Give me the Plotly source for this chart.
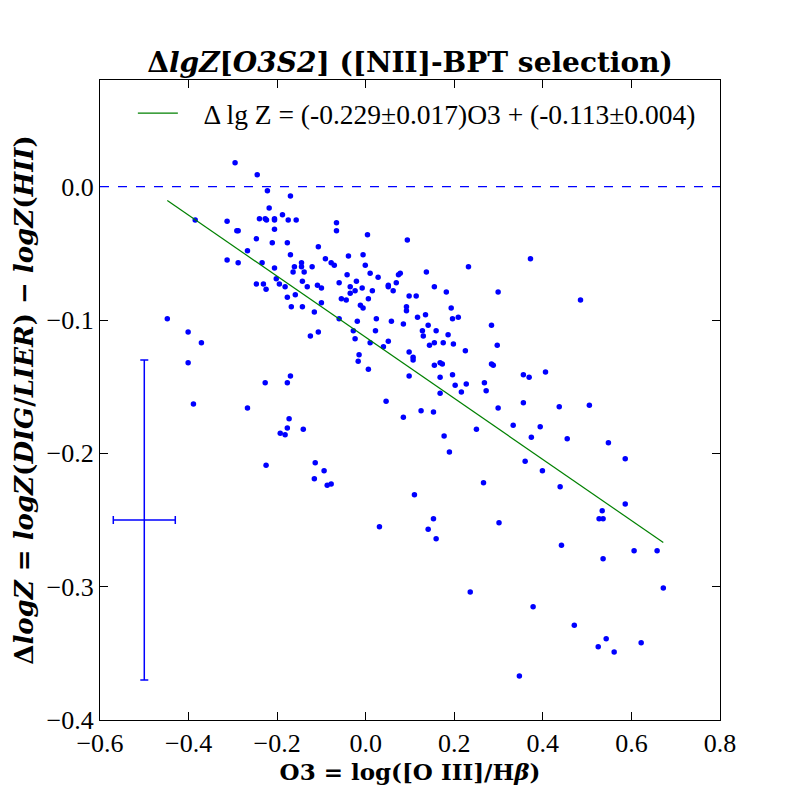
import plotly.graph_objects as go

# delta metallicity vs O3
o3 = [
    -0.295, -0.245, -0.222, -0.170, -0.218, -0.188, -0.385, -0.313, -0.240, -0.227,
    -0.224, -0.206, -0.206, -0.175, -0.157, -0.291, -0.288, -0.206, -0.247, -0.177,
    -0.211, -0.267, -0.107, -0.170, -0.091, -0.313, -0.288, -0.234, -0.145, -0.161,
    -0.145, -0.121, -0.206, -0.164, -0.139, -0.202, -0.143, -0.247, -0.231, -0.195,
    -0.132, -0.109, -0.182, -0.100, -0.225, -0.159, -0.177, -0.100, -0.168, -0.143,
    -0.116, -0.448,
    -0.066, -0.066, 0.004, 0.094, -0.039, -0.006, -0.078, -0.071, -0.001, 0.232,
    -0.042, 0.010, 0.028, 0.074, 0.078, 0.137, 0.069, 0.051, 0.051, -0.060,
    -0.021, 0.155, -0.035, -0.008, -0.024, -0.035, 0.015, 0.062, 0.182, 0.299,
    -0.055, -0.044, 0.006, 0.098, 0.114, -0.012, -0.006, 0.092, 0.092, 0.193,
    0.135, 0.117, 0.209, 0.196, -0.060, 0.024, -0.019, 0.058, 0.085, 0.141,
    0.284, 0.372, 0.485,
    -0.401, -0.371, -0.125, -0.107, -0.401, -0.170, -0.227, -0.177, -0.389, -0.267,
    -0.173, -0.177, -0.141, -0.193, -0.182, -0.225, -0.114, -0.094, -0.116, -0.087,
    -0.028, 0.022, 0.128, 0.159, 0.130, 0.186, -0.024, 0.010, 0.051, 0.040,
    0.144, 0.155, 0.175, 0.198, 0.297, 0.225, -0.015, 0.098, 0.107, 0.107,
    -0.017, 0.168, 0.173, 0.155, 0.284, 0.288, 0.006, 0.098, 0.168, 0.196,
    0.202, 0.227, 0.268, 0.272, 0.216, 0.168, 0.046, 0.299, 0.125, 0.153,
    0.085, 0.250, 0.177, 0.189, -0.078, 0.266, 0.110,
    0.356, 0.369, 0.406, 0.356, 0.437, 0.505, 0.333, 0.394, 0.374, 0.455,
    0.548, 0.586, 0.360, 0.399, 0.439,
    0.153, 0.031, 0.141, 0.159, 0.301, 0.236, 0.586, 0.534, 0.527, 0.536,
    0.442, 0.606, 0.658, 0.536, 0.672, 0.378, 0.471, 0.543, 0.525, 0.622,
    0.561, 0.347,
]
dlogz = [
    0.018, 0.009, -0.003, -0.007, -0.016, -0.021, -0.025, -0.026, -0.024, -0.024,
    -0.025, -0.024, -0.025, -0.025, -0.025, -0.033, -0.033, -0.032, -0.039, -0.042,
    -0.042, -0.048, -0.045, -0.051, -0.054, -0.055, -0.057, -0.057, -0.057, -0.060,
    -0.060, -0.060, -0.061, -0.064, -0.064, -0.069, -0.071, -0.073, -0.073, -0.073,
    -0.075, -0.074, -0.075, -0.076, -0.077, -0.081, -0.083, -0.087, -0.090, -0.090,
    -0.094, -0.099,
    -0.027, -0.033, -0.036, -0.040, -0.052, -0.051, -0.057, -0.059, -0.059, -0.060,
    -0.066, -0.065, -0.068, -0.066, -0.065, -0.064, -0.072, -0.074, -0.075, -0.072,
    -0.071, -0.075, -0.075, -0.076, -0.078, -0.080, -0.078, -0.078, -0.079, -0.079,
    -0.084, -0.085, -0.084, -0.082, -0.082, -0.089, -0.091, -0.090, -0.093, -0.091,
    -0.096, -0.098, -0.098, -0.099, -0.099, -0.099, -0.101, -0.101, -0.103, -0.104,
    -0.104, -0.054, -0.085,
    -0.109, -0.117, -0.112, -0.109, -0.132, -0.142, -0.147, -0.147, -0.163, -0.166,
    -0.174, -0.181, -0.182, -0.185, -0.186, -0.209, -0.207, -0.213, -0.219, -0.224,
    -0.108, -0.108, -0.108, -0.108, -0.112, -0.111, -0.114, -0.117, -0.116, -0.120,
    -0.119, -0.117, -0.117, -0.118, -0.119, -0.123, -0.126, -0.124, -0.128, -0.130,
    -0.131, -0.132, -0.133, -0.134, -0.133, -0.134, -0.137, -0.142, -0.143, -0.141,
    -0.149, -0.148, -0.147, -0.153, -0.154, -0.155, -0.161, -0.166, -0.168, -0.169,
    -0.173, -0.182, -0.187, -0.199, -0.223, -0.222, -0.231,
    -0.141, -0.143, -0.139, -0.162, -0.165, -0.164, -0.179, -0.180, -0.188, -0.189,
    -0.192, -0.204, -0.206, -0.213, -0.225,
    -0.249, -0.255, -0.257, -0.264, -0.252, -0.304, -0.238, -0.243, -0.249, -0.249,
    -0.269, -0.273, -0.273, -0.279, -0.301, -0.315, -0.329, -0.339, -0.345, -0.342,
    -0.349, -0.367,
]

# fit from the legend
slope, slope_err = -0.229, 0.017
intercept, intercept_err = -0.113, 0.004

# typical error bar
err_x, err_y = [-0.5], [-0.25]
err_dx, err_dy = 0.07, 0.12

font = "Liberation Serif, serif"
bold_font = "DejaVu Serif, serif"

fig = go.Figure()

fig.add_trace(go.Scatter(x=o3, y=dlogz, mode="markers", showlegend=False,
                         marker=dict(color="blue", size=5.5, line=dict(width=0))))

fit_x = [min(o3), max(o3)]
fit_y = [slope * v + intercept for v in fit_x]
fit_label = "Δ lg Z = (%.3f±%.3f)O3 + (%.3f±%.3f)" % (slope, slope_err, intercept, intercept_err)
fig.add_trace(go.Scatter(
    x=fit_x, y=fit_y, mode="lines", line=dict(color="green", width=1.2),
    name="\u00a0\u00a0\u00a0" + fit_label))

fig.add_trace(go.Scatter(
    x=err_x, y=err_y, mode="markers", showlegend=False,
    marker=dict(color="blue", size=1),
    error_x=dict(type="constant", value=err_dx, color="blue", thickness=1.5, width=4),
    error_y=dict(type="constant", value=err_dy, color="blue", thickness=1.5, width=4)))

fig.add_hline(y=0, line=dict(color="blue", dash="dash", width=1.2))

axis_style = dict(showline=True, mirror="ticks", linecolor="black", linewidth=1.2,
                  ticks="inside", ticklen=8, tickcolor="black", showgrid=False,
                  zeroline=False, tickfont=dict(family=font, size=26, color="black"))

fig.update_xaxes(range=[-0.6, 0.8], dtick=0.2, tickformat=".1f",
                 title=dict(text="<b>O3 = log([O III]/H<i>β</i>)</b>",
                            font=dict(family=bold_font, size=23, color="black"), standoff=6),
                 **axis_style)
fig.update_yaxes(range=[-0.4, 0.08], dtick=0.1, tickformat=".1f",
                 title=dict(text="<b>Δ<i>logZ</i> = <i>logZ</i>(<i>DIG</i>/<i>LIER</i>) − <i>logZ</i>(<i>HII</i>)</b>",
                            font=dict(family=bold_font, size=26, color="black"), standoff=5),
                 **axis_style)

# the page adds an 8px body margin, so margins are trimmed to keep the axes at 100..720
fig.update_layout(
    width=800, height=800,
    margin=dict(l=92, r=88, t=72, b=88),
    plot_bgcolor="white", paper_bgcolor="white",
    title=dict(text="<b>Δ<i>lgZ</i>[<i>O3S2</i>] ([NII]-BPT selection)</b>",
               x=0.5, xref="paper", xanchor="center",
               y=1 - 54 / 800, yref="container", yanchor="middle",
               font=dict(family=bold_font, size=28, color="black")),
    legend=dict(x=0.053, y=0.948, xanchor="left", yanchor="middle", itemwidth=40,
                bgcolor="rgba(0,0,0,0)", borderwidth=0,
                font=dict(family=font, size=27.5, color="black")),
)

fig.write_html("out.html")
